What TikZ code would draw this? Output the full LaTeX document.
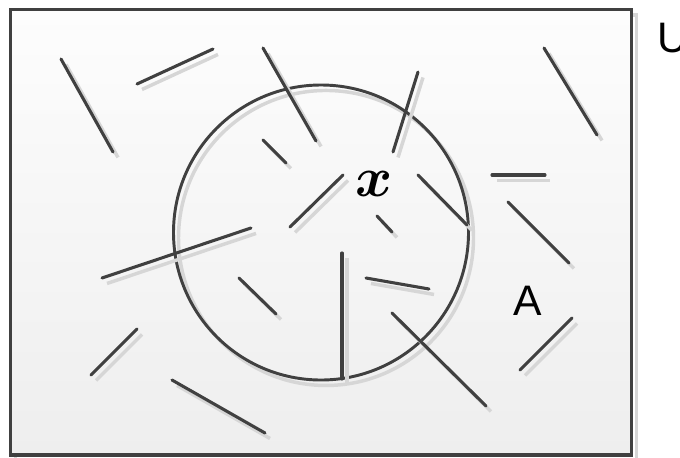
\documentclass[tikz,border=0pt]{standalone}
\usepackage{fontspec}
\setmainfont{Liberation Sans}
\usepackage{amsmath}
\usepackage{bm}
\usetikzlibrary{positioning}
\definecolor{stickDark}{HTML}{404040}
\definecolor{stickShadow}{HTML}{D6D6D6}
\definecolor{paperTop}{HTML}{FDFDFD}
\definecolor{paperBottom}{HTML}{EEEEEE}

\begin{document}
\begin{tikzpicture}[
    x=0.75pt, y=-0.75pt,
    shadowed/.style={preaction={draw=stickShadow, line width=2.6pt,
      transform canvas={shift={(3.75pt,-4.1pt)}}}},
    stick/.style={draw=stickDark, line width=2.3pt, line cap=round, shadowed},
    frame/.style={rectangle, draw=stickDark, line width=2.3pt, shadowed,
      top color=paperTop, bottom color=paperBottom, inner sep=0pt, outer sep=0pt,
      minimum width=465.75pt, minimum height=334.1pt},
    ring/.style={circle, draw=stickDark, line width=2.2pt, shadowed,
      inner sep=0pt, outer sep=0pt, minimum size=221.25pt},
    setlabel/.style={font=\fontsize{32}{38}\selectfont, text=black, inner sep=0pt}
  ]
  \useasboundingbox (0,0) rectangle (680,457);
  \node[frame] (univ) at (320.75,232.25) {};
  \node[ring] (setA) at (321,232.5) {};

  \draw[stick] (61,59) -- (113,152);
  \draw[stick] (137,84) -- (213,49);
  \draw[stick] (263,48) -- (316,141);
  \draw[stick] (263,140) -- (286,163);
  \draw[stick] (290,227) -- (343,175);
  \draw[stick] (418,72) -- (393,152);
  \draw[stick] (418,175) -- (467,225);
  \draw[stick] (492,175) -- (545,175);
  \draw[stick] (544,48) -- (597,135);
  \draw[stick] (508,202) -- (569,263);
  \draw[stick] (377,216) -- (392,232);
  \draw[stick] (102,278) -- (251,228);
  \draw[stick] (239,278) -- (276,314);
  \draw[stick] (137,329) -- (91,375);
  \draw[stick] (172,380) -- (265,433);
  \draw[stick] (342,253) -- (342,379);
  \draw[stick] (366,278) -- (429,289);
  \draw[stick] (392,313) -- (486,406);
  \draw[stick] (572,318) -- (520,370);

  \node[setlabel, anchor=base west] (uLabel) at (657,52) {U};
  \node[setlabel, anchor=base west] (aLabel) at (513,315) {A};
  \node[inner sep=0pt, font=\Huge, scale=1.7] (elem) at (374,184) {$\bm{x}$};
\end{tikzpicture}
\end{document}
